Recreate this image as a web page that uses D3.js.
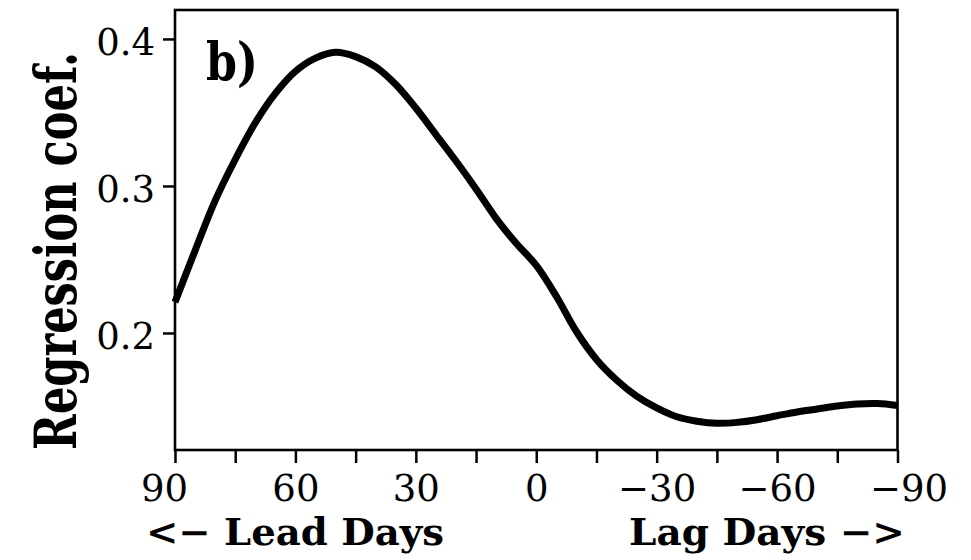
<!DOCTYPE html>
<html>
<head>
<meta charset="utf-8">
<script src="https://cdn.jsdelivr.net/npm/d3@7"></script>
<style>
  body { margin: 0; background: #fff; }
  svg { display: block; }
</style>
</head>
<body>
<div id="chart"></div>
<script>
// lag in days (positive = lead), regression coefficient
var lagDays = [90, 85, 80, 75, 70, 65, 60, 55, 50, 45, 40, 35, 30, 25, 20, 15, 10, 5, 0,
  -5, -10, -15, -20, -25, -30, -35, -40, -45, -50, -55, -60, -65, -70, -75, -80, -85, -90];
var regCoef = [0.221, 0.256, 0.290, 0.318, 0.343, 0.363, 0.378, 0.387, 0.391, 0.388, 0.381,
  0.369, 0.353, 0.335, 0.317, 0.298, 0.278, 0.261, 0.246,
  0.225, 0.201, 0.182, 0.168, 0.157, 0.149, 0.143, 0.140, 0.1386, 0.1392, 0.141, 0.1437,
  0.1463, 0.1483, 0.1503, 0.1517, 0.152, 0.1507];

var xMajor = [90, 60, 30, 0, -30, -60, -90];
var xMinor = [75, 45, 15, -15, -45, -75];
var yTicks = [0.2, 0.3, 0.4];

var width = 971, height = 560;
var margin = { top: 10, right: 73.5, bottom: 110, left: 175 };

var svg = d3.select("#chart").append("svg")
  .attr("width", width)
  .attr("height", height);

var x = d3.scaleLinear().domain([90, -90]).range([margin.left, width - margin.right]);
var y = d3.scaleLinear().domain([0.1204, 0.4197]).range([height - margin.bottom, margin.top]);

var data = lagDays.map(function(d, i) { return { lag: d, v: regCoef[i] }; });

// x axis: major ticks with labels, minor ticks without
var gx = svg.append("g")
  .attr("transform", "translate(0," + (height - margin.bottom) + ")")
  .call(d3.axisBottom(x).tickValues(xMajor).tickSize(13).tickPadding(12).tickFormat(d3.format("d")));

svg.append("g")
  .attr("transform", "translate(0," + (height - margin.bottom) + ")")
  .call(d3.axisBottom(x).tickValues(xMinor).tickSize(13).tickFormat(""));

var gy = svg.append("g")
  .attr("transform", "translate(" + margin.left + ",0)")
  .call(d3.axisLeft(y).tickValues(yTicks).tickSize(12).tickPadding(8).tickFormat(d3.format(".1f")));

svg.selectAll(".tick line").attr("stroke", "#000").attr("stroke-width", 2.5);
svg.selectAll(".domain").remove();

svg.selectAll(".tick text")
  .attr("fill", "#000")
  .style("font-family", "'DejaVu Serif', serif")
  .style("font-size", "37px");

gy.selectAll(".tick text").attr("dy", "0.43em");
// end labels sit a little outside their ticks in the original
gx.selectAll(".tick text").attr("dx", function(d) {
  return d === 90 ? -11 : d === -90 ? 11 : 0;
});

// frame
svg.append("rect")
  .attr("x", margin.left)
  .attr("y", margin.top)
  .attr("width", width - margin.right - margin.left)
  .attr("height", height - margin.bottom - margin.top)
  .attr("fill", "none")
  .attr("stroke", "#000")
  .attr("stroke-width", 2.6);

// curve
svg.append("path")
  .datum(data)
  .attr("fill", "none")
  .attr("stroke", "#000")
  .attr("stroke-width", 7)
  .attr("stroke-linejoin", "round")
  .attr("d", d3.line()
    .x(function(d) { return x(d.lag); })
    .y(function(d) { return y(d.v); })
    .curve(d3.curveCatmullRom));

// labels: bold slab serif squeezed to the original's narrow pitch
function label(txt, size, len, pos, anchor) {
  var t = svg.append("text")
    .attr("text-anchor", anchor)
    .style("font-family", "'DejaVu Serif', serif")
    .style("font-weight", "bold")
    .style("font-size", size + "px")
    .attr("fill", "#000")
    .text(txt);
  var w = t.node().getComputedTextLength();
  t.attr("transform", pos + " scale(" + (len / w) + ",1)");
  return t;
}

label("b)", 53, 52, "translate(206,80)", "start");
label("Regression coef.", 58, 398, "translate(76,251) rotate(-90)", "middle");
label("<\u2212 Lead Days", 37, 298, "translate(146,545)", "start");
label("Lag Days \u2212>", 37, 276, "translate(905,545)", "end");
</script>
</body>
</html>
